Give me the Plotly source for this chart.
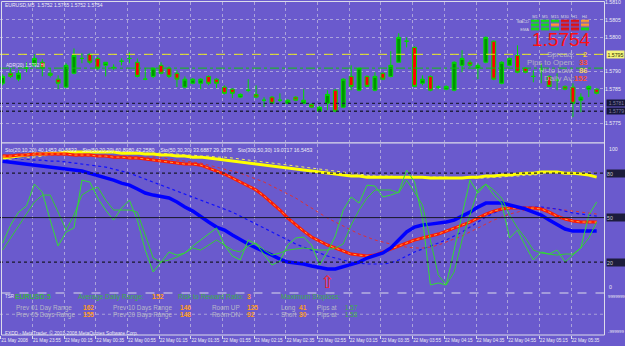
import plotly.graph_objects as go

W, H = 625, 346
FONT = "Liberation Sans"

# ---------------- data ----------------
bar_index = list(range(76))
opens = [1.57866, 1.57895, 1.57878, 1.57910, 1.57918, 1.57927, 1.57895, 1.57878, 1.57855, 1.57895,
         1.57938, 1.57950, 1.57938, 1.57918, 1.57912, 1.57930, 1.57938, 1.57927, 1.57878, 1.57886,
         1.57918, 1.57910, 1.57895, 1.57855, 1.57866, 1.57866, 1.57886, 1.57878, 1.57855, 1.57849,
         1.57826, 1.57846, 1.57834, 1.57817, 1.57826, 1.57817, 1.57808, 1.57826, 1.57808, 1.57805,
         1.57785, 1.57808, 1.57846, 1.57797, 1.57886, 1.57846, 1.57886, 1.57846, 1.57895, 1.57886,
         1.57927, 1.57988, 1.57970, 1.57866, 1.57886, 1.57855, 1.57849, 1.57846, 1.57918, 1.57927,
         1.57910, 1.57927, 1.57988, 1.57866, 1.57918, 1.57947, 1.57910, 1.57886, 1.57904, 1.57886,
         1.57875, 1.57857, 1.57855, 1.57817, 1.57849, 1.57849]
highs = [1.57892, 1.57910, 1.57904, 1.57927, 1.57950, 1.57936, 1.57910, 1.57889, 1.57924, 1.57967,
         1.57953, 1.57953, 1.57944, 1.57927, 1.57921, 1.57938, 1.57956, 1.57938, 1.57910, 1.57912,
         1.57927, 1.57915, 1.57904, 1.57886, 1.57881, 1.57881, 1.57889, 1.57881, 1.57860, 1.57852,
         1.57837, 1.57878, 1.57860, 1.57826, 1.57829, 1.57837, 1.57820, 1.57829, 1.57849, 1.57808,
         1.57800, 1.57846, 1.57849, 1.57881, 1.57918, 1.57912, 1.57889, 1.57898, 1.57898, 1.57959,
         1.58011, 1.57999, 1.57973, 1.57889, 1.57889, 1.57860, 1.57860, 1.57930, 1.57962, 1.57933,
         1.57924, 1.58002, 1.57990, 1.57930, 1.57941, 1.57976, 1.57912, 1.57904, 1.57924, 1.57889,
         1.57895, 1.57860, 1.57866, 1.57837, 1.57860, 1.57852]
lows = [1.57860, 1.57881, 1.57872, 1.57898, 1.57912, 1.57886, 1.57883, 1.57849, 1.57852, 1.57892,
        1.57924, 1.57921, 1.57904, 1.57886, 1.57904, 1.57918, 1.57924, 1.57883, 1.57875, 1.57881,
        1.57892, 1.57881, 1.57855, 1.57852, 1.57863, 1.57849, 1.57860, 1.57852, 1.57834, 1.57823,
        1.57823, 1.57840, 1.57823, 1.57797, 1.57805, 1.57811, 1.57805, 1.57814, 1.57805, 1.57794,
        1.57782, 1.57788, 1.57782, 1.57794, 1.57846, 1.57843, 1.57855, 1.57843, 1.57875, 1.57883,
        1.57927, 1.57970, 1.57855, 1.57860, 1.57843, 1.57849, 1.57846, 1.57843, 1.57898, 1.57912,
        1.57878, 1.57924, 1.57875, 1.57863, 1.57915, 1.57895, 1.57895, 1.57869, 1.57866, 1.57855,
        1.57846, 1.57846, 1.57768, 1.57782, 1.57826, 1.57834]
closes = [1.57886, 1.57886, 1.57895, 1.57910, 1.57938, 1.57910, 1.57889, 1.57866, 1.57918, 1.57947,
          1.57938, 1.57927, 1.57910, 1.57927, 1.57912, 1.57930, 1.57938, 1.57886, 1.57878, 1.57910,
          1.57895, 1.57886, 1.57878, 1.57878, 1.57878, 1.57878, 1.57866, 1.57866, 1.57837, 1.57837,
          1.57834, 1.57846, 1.57826, 1.57817, 1.57808, 1.57817, 1.57817, 1.57817, 1.57817, 1.57797,
          1.57797, 1.57834, 1.57785, 1.57878, 1.57857, 1.57910, 1.57857, 1.57886, 1.57878, 1.57918,
          1.57999, 1.57988, 1.57857, 1.57878, 1.57846, 1.57855, 1.57857, 1.57927, 1.57938, 1.57918,
          1.57918, 1.57999, 1.57878, 1.57927, 1.57938, 1.57898, 1.57898, 1.57886, 1.57904, 1.57857,
          1.57875, 1.57849, 1.57808, 1.57826, 1.57857, 1.57837]

# stochastic lines (0-100)
sto_fast_main = [32.8, 45.0, 53.7, 57.8, 72.6, 67.2, 48.3, 30.8, 40.3, 43.0,
                 75.3, 74.0, 63.2, 55.1, 48.3, 56.4, 61.8, 48.3, 28.1, 13.3,
                 20.0, 26.8, 24.7, 26.1, 30.8, 34.9, 38.9, 43.0, 31.5, 24.1,
                 21.4, 34.9, 32.2, 24.7, 18.0, 20.7, 31.5, 36.2, 36.9, 31.5,
                 18.0, 26.8, 37.6, 55.1, 63.9, 59.8, 71.9, 71.3, 63.9, 65.2,
                 67.2, 82.1, 74.0, 49.7, 4.5, 5.9, 4.5, 28.1, 51.7, 75.3,
                 66.6, 72.6, 65.2, 59.8, 36.2, 41.6, 30.8, 21.4, 26.8, 25.4,
                 28.1, 20.0, 24.7, 29.5, 51.7, 60.5]
sto_fast_signal = [28.1, 36.2, 44.3, 53.1, 60.5, 65.2, 65.2, 53.7, 41.6, 51.7,
                   65.2, 68.6, 70.6, 61.8, 55.1, 55.1, 55.1, 53.7, 38.2, 22.7,
                   20.0, 21.4, 23.4, 26.1, 29.5, 28.1, 31.5, 34.9, 31.5, 28.1,
                   26.8, 30.8, 32.8, 28.1, 24.7, 26.1, 28.1, 28.8, 29.5, 28.8,
                   28.1, 28.1, 29.5, 32.2, 45.0, 55.1, 63.2, 68.6, 68.6, 68.6,
                   66.6, 75.3, 67.2, 58.5, 34.9, 11.3, 4.5, 13.3, 34.9, 51.7,
                   68.6, 72.6, 68.6, 63.2, 51.7, 43.0, 36.2, 28.1, 26.1, 25.4,
                   24.7, 25.4, 25.4, 29.5, 36.2, 47.0]
sto_mid_main = [88.1, 87.5, 86.8, 86.1, 85.4, 84.8, 84.1, 83.4, 82.7, 82.1,
                81.4, 80.0, 78.7, 77.3, 75.3, 73.3, 71.9, 69.3, 66.6, 65.2,
                63.9, 63.2, 60.5, 57.1, 54.4, 50.4, 47.0, 43.6, 41.6, 38.2,
                34.9, 32.2, 29.5, 27.4, 24.7, 22.0, 20.0, 19.4, 18.7, 17.3,
                16.0, 15.3, 15.3, 16.7, 18.7, 20.0, 22.7, 24.1, 26.1, 29.5,
                34.9, 40.3, 43.6, 45.0, 45.6, 46.3, 47.0, 48.3, 51.0, 53.7,
                57.1, 59.8, 59.8, 59.8, 58.5, 57.1, 55.8, 53.7, 51.7, 48.3,
                45.0, 42.3, 40.9, 40.9, 40.9, 40.9]
sto_mid_signal = [90.2, 90.2, 89.5, 89.5, 88.8, 88.8, 88.1, 88.1, 87.5, 86.8,
                  86.1, 85.4, 84.8, 84.1, 82.7, 81.4, 80.0, 78.0, 76.0, 74.0,
                  71.9, 69.9, 67.9, 65.9, 63.9, 61.8, 59.8, 57.8, 55.8, 53.7,
                  51.0, 48.3, 45.6, 43.0, 40.3, 37.6, 34.9, 32.2, 30.1, 28.1,
                  26.1, 24.1, 22.7, 21.4, 20.0, 19.4, 18.7, 18.7, 18.7, 19.4,
                  21.4, 24.1, 26.8, 28.8, 30.8, 32.8, 34.9, 37.6, 40.3, 43.6,
                  47.0, 50.4, 53.1, 55.1, 56.4, 57.1, 57.1, 57.1, 57.1, 56.4,
                  55.8, 54.4, 53.1, 52.4, 51.7, 51.0]
sto_slow_main = [91.5, 91.5, 92.2, 92.2, 92.9, 92.9, 92.9, 92.9, 92.9, 92.2,
                 92.2, 92.2, 91.5, 91.5, 90.8, 90.8, 90.2, 90.2, 89.5, 88.8,
                 88.1, 87.5, 86.8, 86.1, 86.1, 85.4, 83.4, 81.4, 79.4, 76.7,
                 74.0, 71.3, 68.6, 64.5, 59.8, 55.1, 49.7, 45.0, 40.9, 36.9,
                 34.2, 31.5, 29.5, 27.4, 25.4, 24.7, 24.1, 24.7, 26.8, 28.8,
                 30.8, 32.8, 34.9, 36.2, 37.6, 38.9, 40.9, 43.0, 45.0, 47.0,
                 49.7, 52.4, 54.4, 55.8, 56.4, 56.4, 56.4, 56.4, 55.8, 53.7,
                 51.0, 49.0, 47.7, 47.0, 47.0, 47.0]
sto_slow_signal = [92.2, 92.2, 92.2, 92.2, 92.2, 92.2, 92.2, 92.2, 92.2, 91.5,
                   91.5, 91.5, 91.5, 91.5, 91.5, 91.5, 91.5, 90.8, 90.8, 90.8,
                   90.8, 89.5, 88.8, 88.1, 87.5, 86.8, 85.4, 84.1, 82.7, 81.4,
                   80.0, 78.0, 76.0, 74.0, 71.3, 68.6, 65.9, 63.2, 59.8, 56.4,
                   53.1, 49.7, 47.0, 44.3, 41.6, 38.9, 36.9, 34.9, 33.5, 32.2,
                   30.8, 30.1, 29.5, 29.5, 30.1, 31.5, 33.5, 35.5, 37.6, 40.3,
                   43.0, 45.6, 48.3, 50.4, 52.4, 53.7, 55.1, 55.8, 56.4, 56.4,
                   55.8, 55.1, 54.4, 53.7, 53.1, 52.4]
sto_long_main = [90.2, 90.8, 91.5, 92.2, 92.9, 92.9, 93.5, 93.5, 94.2, 94.2,
                 94.2, 94.2, 94.2, 94.2, 94.2, 93.5, 93.5, 93.5, 92.9, 92.9,
                 92.2, 92.2, 91.5, 91.5, 90.8, 90.8, 90.2, 89.5, 88.8, 88.1,
                 87.5, 86.8, 86.1, 85.4, 84.8, 84.1, 83.4, 82.7, 82.1, 81.4,
                 80.7, 80.0, 79.4, 78.7, 78.0, 78.0, 77.3, 77.3, 77.3, 77.3,
                 77.3, 77.3, 77.3, 77.3, 76.7, 76.7, 76.7, 76.7, 76.7, 77.3,
                 77.3, 78.0, 78.0, 78.7, 78.7, 79.4, 80.0, 80.0, 80.7, 80.7,
                 80.7, 80.0, 80.0, 79.4, 78.7, 77.3]
sto_long_signal = [89.5, 89.5, 89.5, 90.2, 90.8, 91.5, 92.2, 92.9, 92.9, 93.5,
                   93.5, 94.2, 94.2, 94.2, 94.2, 94.2, 94.2, 94.2, 93.5, 93.5,
                   93.5, 92.9, 92.9, 92.2, 92.2, 91.5, 91.5, 90.8, 90.8, 90.2,
                   89.5, 88.8, 88.1, 87.5, 86.8, 86.1, 85.4, 84.8, 84.1, 83.4,
                   82.7, 82.1, 81.4, 80.7, 80.0, 79.4, 78.7, 78.0, 78.0, 78.0,
                   77.3, 77.3, 77.3, 77.3, 77.3, 77.3, 77.3, 76.7, 76.7, 76.7,
                   76.7, 76.7, 77.3, 77.3, 78.0, 78.0, 78.7, 78.7, 79.4, 80.0,
                   80.0, 80.0, 80.0, 80.7, 80.7, 80.0]

signal_bar = [41]
signal_value = [5.2]

tick_bars = [0, 4, 8, 12, 16, 20, 24, 28, 32, 36, 40, 44, 48, 52, 56, 60, 64, 68, 72]
time_labels = ["21 May 2008", "21 May 23:55", "22 May 00:15", "22 May 00:35", "22 May 00:55",
               "22 May 01:15", "22 May 01:35", "22 May 01:55", "22 May 02:15", "22 May 02:35",
               "22 May 02:55", "22 May 03:15", "22 May 03:35", "22 May 03:55", "22 May 04:15",
               "22 May 04:35", "22 May 04:55", "22 May 05:15", "22 May 05:35"]

price_ticks = [1.5810, 1.5805, 1.5800, 1.5795, 1.5790, 1.5785, 1.5780, 1.5775]
bid_level = 1.5795
ma_level = 1.57910
dark_levels = [1.57808, 1.57785]
dark_labels = ["1.5781", "1.5779"]
sto_levels = [80, 50, 20]

tf_names = ["M1", "M5", "M15", "M30", "H1", "H4"]
ind_names = ["MACD", "STR", "EMA"]
ind_state = [[1, 1, 1, -1, -1, 0],
             [1, 1, 0, -1, -1, 0],
             [1, 1, 1, -1, -1, 1]]

# ---------------- styling ----------------
BG = "#6a5acd"
GRID = "rgba(222,222,232,0.55)"
FRAME = "#dcdcea"
LBL = "#ececf4"

def py(y):
    return 1 - y / H

def pxx(x):
    return x / W

bar_w = 7.92
r0 = -0.341
xr = [r0, r0 + 604 / bar_w]

fig = go.Figure()

fig.add_trace(go.Candlestick(
    x=bar_index, open=opens, high=highs, low=lows, close=closes,
    xaxis="x", yaxis="y",
    increasing=dict(line=dict(color="#00dd00", width=1), fillcolor="#009400"),
    decreasing=dict(line=dict(color="#00dd00", width=1), fillcolor="#ff0000"),
    whiskerwidth=0, showlegend=False, hoverinfo="skip"))

def line(y, color, width, dash="solid"):
    fig.add_trace(go.Scatter(x=bar_index, y=y, mode="lines", xaxis="x2", yaxis="y2",
                             line=dict(color=color, width=width, dash=dash),
                             showlegend=False, hoverinfo="skip"))

line(sto_long_signal, "#f0f060", 1, "dot")
line(sto_slow_signal, "#e03030", 1, "dot")
line(sto_mid_signal, "#1010ff", 1.2, "dot")
line(sto_long_main, "#ffff00", 3)
line(sto_slow_main, "#ff1a00", 3)
line(sto_slow_main, "#ffa040", 1, "dot")
line(sto_mid_main, "#0000ff", 3.5)
line(sto_fast_signal, "#33cc33", 1)
line(sto_fast_main, "#33dd33", 1)

fig.add_trace(go.Scatter(x=signal_bar, y=signal_value, mode="text", text=["\u21e7"],
                         textfont=dict(color="#ff2020", size=17, family="DejaVu Sans"),
                         xaxis="x2", yaxis="y2", showlegend=False, hoverinfo="skip"))

fig.add_trace(go.Heatmap(z=ind_state, x=tf_names, y=ind_names, xaxis="x4", yaxis="y4",
                         zmin=-1, zmax=1, showscale=False, xgap=2, ygap=1.3, hoverinfo="skip",
                         colorscale=[[0, "#e01010"], [0.33, "#e01010"], [0.33, "#ff9a30"],
                                     [0.67, "#ff9a30"], [0.67, "#10e010"], [1, "#10e010"]]))

xcommon = dict(range=xr, domain=[0, 604 / W], showgrid=True, gridcolor=GRID, griddash="dot",
               gridwidth=1, zeroline=False, tickvals=[b - 0.24 for b in tick_bars],
               ticktext=time_labels, rangeslider=dict(visible=False), automargin=False,
               tickangle=0)

shapes = []
shapes.append(dict(type="line", xref="x domain", yref="y", x0=0, x1=1, y0=bid_level, y1=bid_level,
                   line=dict(color="#e8e820", width=1, dash="dash")))
shapes.append(dict(type="line", xref="x domain", yref="y", x0=0, x1=1, y0=ma_level, y1=ma_level,
                   line=dict(color="#10c010", width=1, dash="dashdot")))
for lv in dark_levels:
    shapes.append(dict(type="line", xref="x domain", yref="y", x0=0, x1=1, y0=lv, y1=lv,
                       line=dict(color="#202040", width=1.4, dash="dot")))
for lv in sto_levels:
    shapes.append(dict(type="line", xref="x2 domain", yref="y2", x0=0, x1=1, y0=lv, y1=lv,
                       line=dict(color="#181828", width=1.3 if lv != 50 else 1,
                                 dash="dot" if lv != 50 else "solid")))
shapes.append(dict(type="line", xref="x3 domain", yref="y3", x0=0, x1=1, y0=0, y1=0,
                   line=dict(color="#a8a0d8", width=1, dash="dot")))
# frame and separators
shapes.append(dict(type="rect", xref="paper", yref="paper", x0=pxx(1.5), x1=pxx(604.5),
                   y0=py(335), y1=py(1.5), line=dict(color=FRAME, width=1)))
shapes.append(dict(type="line", xref="paper", yref="paper", x0=pxx(1.5), x1=pxx(604.5),
                   y0=py(142.8), y1=py(142.8), line=dict(color=FRAME, width=1.3)))
shapes.append(dict(type="line", xref="paper", yref="paper", x0=pxx(1.5), x1=pxx(604.5),
                   y0=py(293), y1=py(293), line=dict(color=FRAME, width=1, dash="dash")))

ann = []

def txt(x, y, s, size, color, anchor="left", family=FONT):
    ann.append(dict(xref="paper", yref="paper", x=pxx(x), y=py(y), text=s, showarrow=False,
                    xanchor=anchor, yanchor="middle", font=dict(size=size, color=color, family=family)))

txt(3, 5, "EURUSD,M5  1.5752 1.5765 1.5752 1.5754", 5, LBL)
txt(4, 65, "ADR(20) 1.5792 Hi", 4.6, LBL)
txt(530, 39.5, "1.5754", 19, "#ff1010")
info_rows = [("Spread:", "2", "#f0c840", 54.5), ("Pips to Open:", "33", "#ff5030", 62.5),
             ("Hi to Low:", "86", "#f0d060", 70.5), ("Daily Av:", "152", "#ff5030", 78.5)]
for lab, val, col, yy in info_rows:
    txt(576, yy, lab, 7.8, "#b4b4c0", "right")
    txt(589.5, yy, "<b>" + val + "</b>", 7.8, col, "right")

txt(3, 149.5, "Sto(20,10,20) 40.1453 40.5533    Sto(50,20,20) 60.8080 42.2580    "
    "Sto(50,30,30) 33.6887 29.1875    Sto(300,50,30) 19.0717 16.5453", 5.2, LBL)

# bottom info panel
GRN = "#3cb04a"
GRY = "#b8b8c8"
ORG = "#ff9a20"
txt(3, 296, "TSR", 4.5, LBL)
txt(13, 296.5, "<b>EURUSD:5</b>", 7, GRN)
txt(76, 296.5, "Average Daily Range:", 6.8, GRN)
txt(150, 296.5, "<b>152</b>", 7, ORG)
txt(176, 296.5, "Risk to Reward Ratio:", 6.8, GRN)
txt(245, 296.5, "<b>3</b>", 7, ORG)
txt(279, 296.5, "Maximum Stoploss:", 6.8, GRN)
rows = [(307.5, "Prev 01 Day Range", "162", "Prev 10 Days Range", "146", "Room UP", "125",
         "Long", "41", "1.57"),
        (314.5, "Prev 05 Days Range", "155", "Prev 20 Days Range", "148", "Room DN", "92",
         "Short", "30", "1.58")]
for yy, a, av, b, bv, c, cv, d, dv, e in rows:
    txt(14, yy, a, 6.4, GRY)
    txt(81, yy, "<b>" + av + "</b>", 6.6, ORG)
    txt(111, yy, b, 6.4, GRY)
    txt(178, yy, "<b>" + bv + "</b>", 6.6, ORG)
    txt(210, yy, c, 6.4, GRY)
    txt(245, yy, "<b>" + cv + "</b>", 6.6, ORG)
    txt(279, yy, d, 6.4, GRY)
    txt(297, yy, "<b>" + dv + "</b>", 6.6, ORG)
    txt(315, yy, "Pips at", 6.4, GRY)
    txt(343, yy, e, 6.4, GRN)
txt(3, 332.5, "FXDD - MetaTrader, \u00a9 2001-2008 MetaQuotes Software Corp.", 4.8, LBL)
txt(606, 296, "9999999", 4.3, LBL)
txt(606, 331.5, "-999999", 4.3, LBL)

# right-hand boxed labels
ann.append(dict(xref="paper", yref="y", x=pxx(605.5), y=bid_level, text="1.5795", showarrow=False,
                xanchor="left", yanchor="middle", bgcolor="#f4f47a", width=17, height=7,
                font=dict(size=5.2, color="#303000", family=FONT), borderpad=0))
for lv, lb in zip(dark_levels, dark_labels):
    ann.append(dict(xref="paper", yref="y", x=pxx(605.5), y=lv, text=lb, showarrow=False,
                    xanchor="left", yanchor="middle", bgcolor="#16163a", width=19, height=6,
                    font=dict(size=5, color="#8080a0", family=FONT), borderpad=0))
for lv in sto_levels:
    ann.append(dict(xref="paper", yref="y2", x=pxx(605.5), y=lv, text=str(lv), showarrow=False,
                    xanchor="left", yanchor="middle", bgcolor="#1c1c3c", width=19, height=7,
                    align="left", font=dict(size=5.2, color="#c8c8d0", family=FONT), borderpad=0))
ann.append(dict(xref="paper", yref="y2", x=pxx(607), y=100, text="100", showarrow=False,
                xanchor="left", yanchor="top", font=dict(size=5.2, color=LBL, family=FONT)))
ann.append(dict(xref="paper", yref="y2", x=pxx(607), y=0, text="0", showarrow=False,
                xanchor="left", yanchor="bottom", font=dict(size=5.2, color=LBL, family=FONT)))

boxed = {1.5795, 1.5780}
fig.update_layout(
    width=W, height=H, margin=dict(l=0, r=0, t=0, b=0, autoexpand=False),
    paper_bgcolor=BG, plot_bgcolor=BG, showlegend=False,
    xaxis=dict(xcommon, anchor="y", showticklabels=False),
    xaxis2=dict(xcommon, anchor="y2", matches="x", showticklabels=False),
    xaxis3=dict(xcommon, anchor="y3", matches="x", showticklabels=True,
                ticks="outside", ticklen=3, tickcolor=FRAME, ticklabelposition="outside right",
                tickfont=dict(size=4.6, color=LBL, family=FONT)),
    yaxis=dict(domain=[py(142), py(2)], range=[1.57696, 1.581015], side="right", anchor="x",
               tickvals=price_ticks, ticklabeloverflow="allow",
               ticktext=["" if v in boxed else "%.4f" % v for v in price_ticks],
               showgrid=True, gridcolor=GRID, griddash="dot", zeroline=False, automargin=False,
               tickfont=dict(size=5.2, color=LBL, family=FONT)),
    yaxis2=dict(domain=[py(291.7), py(143.5)], range=[0, 100], side="right", anchor="x2",
                showgrid=False, zeroline=False, showticklabels=False, automargin=False),
    yaxis3=dict(domain=[py(335), py(293.5)], range=[-1, 1], anchor="x3", automargin=False,
                showgrid=False, zeroline=False, showticklabels=False),
    xaxis4=dict(domain=[pxx(530), pxx(589.5)], anchor="y4", side="top", showgrid=False,
                zeroline=False, ticks="", automargin=False, tickangle=0,
                tickfont=dict(size=4, color="#d8d8e0", family=FONT)),
    yaxis4=dict(domain=[py(31.5), py(19.5)], anchor="x4", autorange="reversed", showgrid=False,
                zeroline=False, ticks="", automargin=False,
                tickfont=dict(size=4, color="#d8d8e0", family=FONT)),
    shapes=shapes, annotations=ann,
)

fig.write_html("out.html")
